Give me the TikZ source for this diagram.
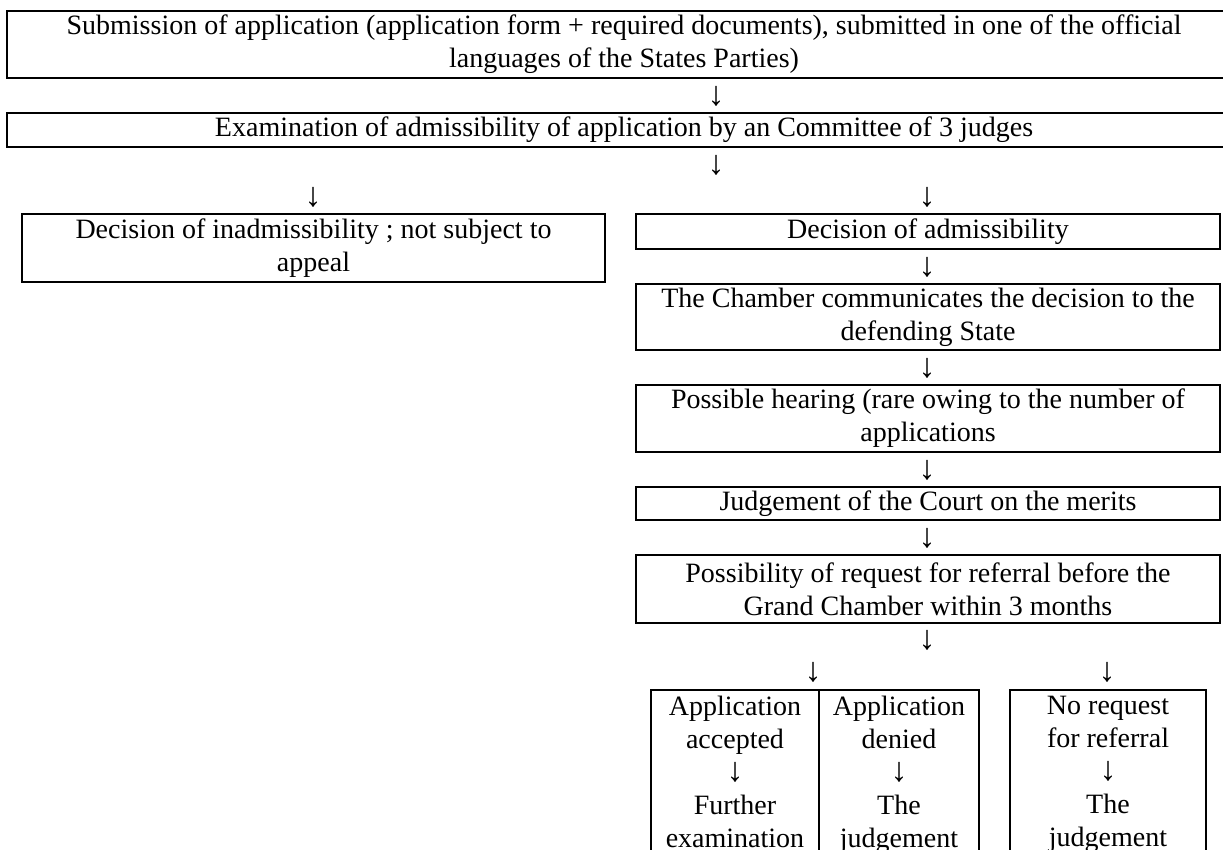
\documentclass[tikz,border=0pt]{standalone}
\usepackage{fontspec}
\setmainfont{Liberation Serif}
\usepackage{tikz}
\usetikzlibrary{positioning}

\newcommand{\darr}{{\fontsize{34}{33}\selectfont ↓}}

\begin{document}
\begin{tikzpicture}[
  x=1pt, y=-1pt,
  font=\fontsize{28}{33}\selectfont,
  stage/.style={draw=black, line width=2pt, inner sep=0pt, align=center, anchor=north west},
  stagetext/.style={inner sep=0pt, align=center, anchor=north, text depth=0pt},
  downarr/.style={inner sep=0pt}
]
  \useasboundingbox (0,0) rectangle (1223,850);
  % upper part, full width
  \node[stage, minimum width=1234pt, minimum height=67pt] (sub) at (6,10)
    {Submission of application (application form + required documents), submitted in one of the official\\languages of the States Parties)};
  \node[downarr] (a1) at (716,96) {\darr};
  \node[stage, minimum width=1234pt, minimum height=34pt] (exam) at (6,112)
    {Examination of admissibility of application by an Committee of 3 judges};
  \node[downarr] (a2) at (716,165) {\darr};
  % two branches
  \node[downarr] (a3) at (313,197) {\darr};
  \node[downarr] (a4) at (927,197) {\darr};
  \node[stage, minimum width=583pt, minimum height=68pt] (inadm) at (21,213)
    {Decision of inadmissibility ; not subject to\\appeal};
  \node[stage, minimum width=584pt, minimum height=35pt] (adm) at (635,213)
    {Decision of admissibility};
  \node[downarr] (a5) at (927,267) {\darr};
  \node[stage, minimum width=584pt, minimum height=66pt] (chamber) at (635,283)
    {The Chamber communicates the decision to the\\defending State};
  \node[downarr] (a6) at (927,368) {\darr};
  \node[stage, minimum width=584pt, minimum height=67pt] (hearing) at (635,384)
    {Possible hearing (rare owing to the number of\\applications};
  \node[downarr] (a7) at (927,470) {\darr};
  \node[stage, minimum width=584pt, minimum height=33pt] (merits) at (635,486)
    {Judgement of the Court on the merits};
  \node[downarr] (a8) at (927,538) {\darr};
  \node[stage, minimum width=584pt, minimum height=68pt] (referral) at (635,554)
    {Possibility of request for referral before the\\Grand Chamber within 3 months};
  \node[downarr] (a9) at (927,640) {\darr};
  % outcomes (cut off at the bottom)
  \node[downarr] (a10) at (813,672) {\darr};
  \node[downarr] (a11) at (1107,672) {\darr};
  \node[stage, minimum width=168pt, minimum height=240pt] (accepted) at (650,689) {};
  \node[stage, minimum width=160pt, minimum height=240pt] (denied) at (818,689) {};
  \node[stage, minimum width=196pt, minimum height=240pt] (norequest) at (1009,689) {};
  \node[stagetext] (acctext) at ([yshift=-7pt]accepted.north) {Application\\accepted\\\darr\\Further\\examination};
  \node[stagetext] (dentext) at ([yshift=-7pt]denied.north) {Application\\denied\\\darr\\The\\judgement};
  \node[stagetext] (notext) at ([yshift=-7pt]norequest.north) {No request\\for referral\\\darr\\The\\judgement};
\end{tikzpicture}
\end{document}
